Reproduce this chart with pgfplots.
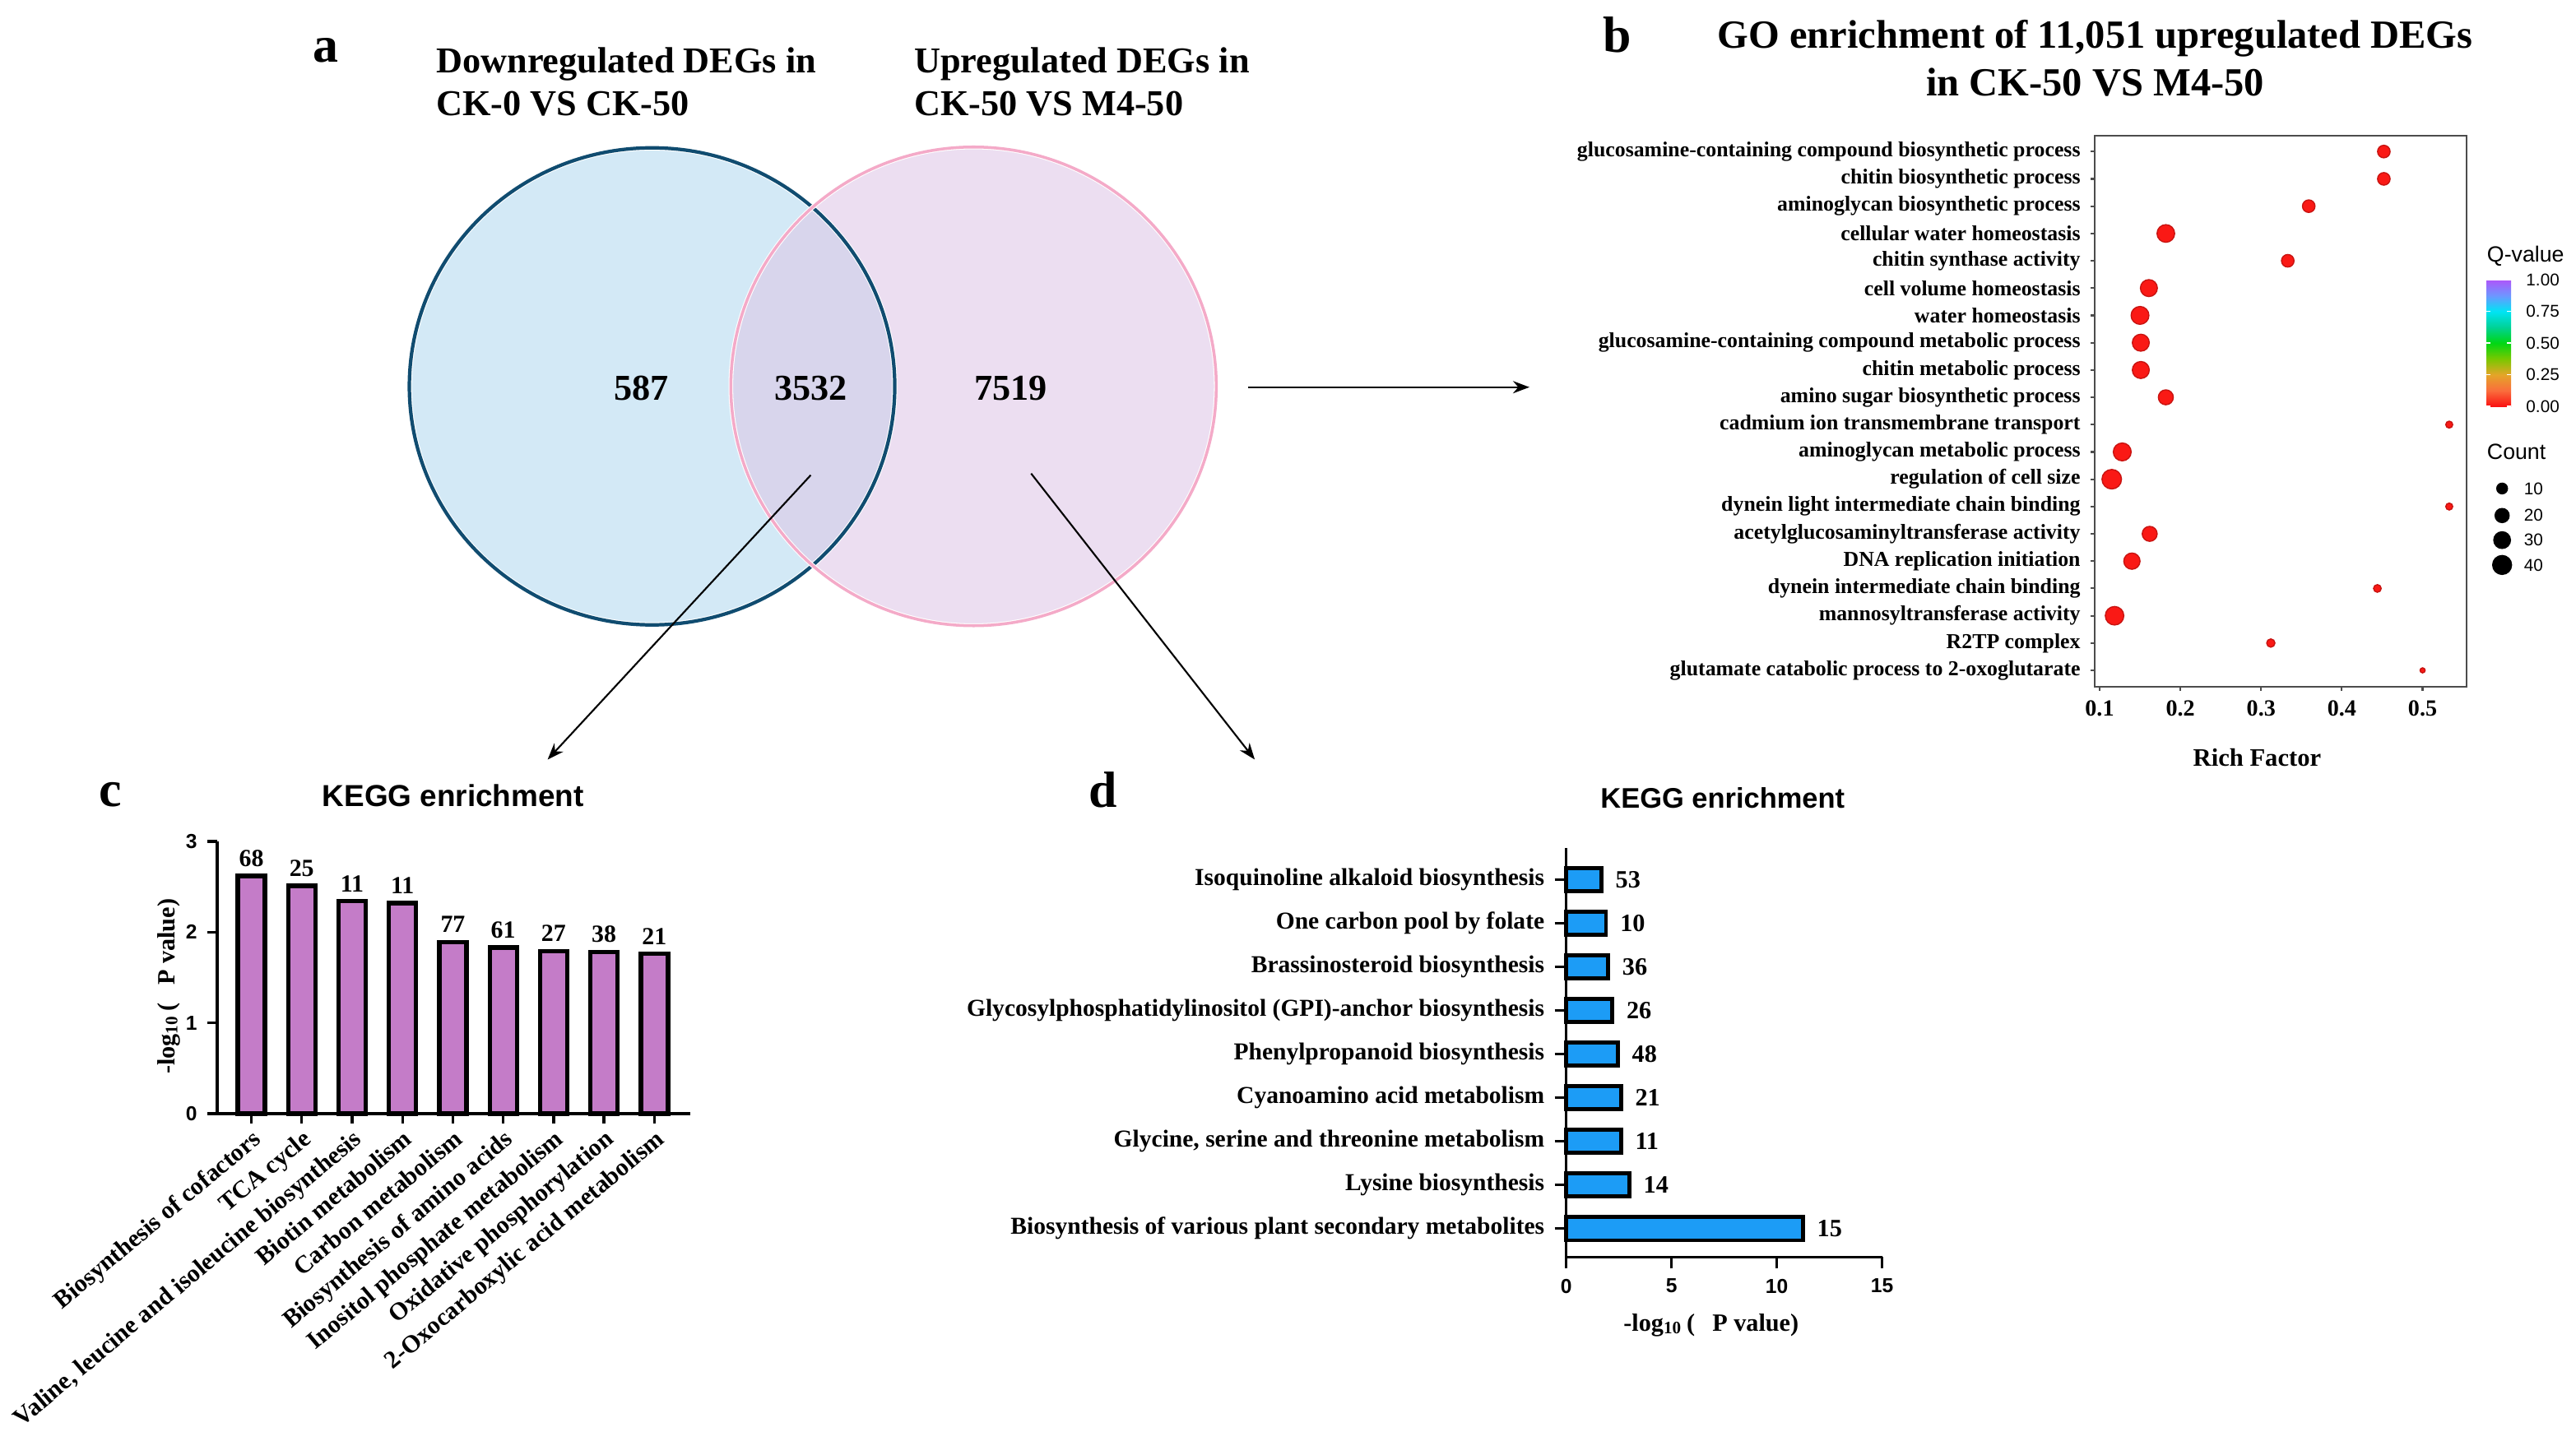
\documentclass[border=0pt]{standalone}
\usepackage{pgfplots}
\pgfplotsset{compat=1.18}
\usepackage{pgfplotstable}
\usepackage{fontspec}
\setmainfont{Liberation Serif}
\setsansfont{Liberation Sans}
\usetikzlibrary{arrows.meta,calc}
\pgfplotsset{/pgf/number format/assume math mode=true}

\definecolor{vblue}{RGB}{211,233,246}
\definecolor{vnavy}{RGB}{16,76,112}
\definecolor{vpink}{RGB}{236,222,241}
\definecolor{vpinkline}{RGB}{244,170,200}
\definecolor{vmix}{RGB}{216,213,236}
\definecolor{cbar}{RGB}{196,124,200}
\definecolor{dbar}{RGB}{28,156,246}

\pgfplotsset{colormap={qv}{rgb255(0cm)=(250,18,18) rgb255(1cm)=(250,110,60) rgb255(2cm)=(228,165,40)
  rgb255(3cm)=(120,200,0) rgb255(4cm)=(0,215,20) rgb255(5cm)=(0,210,150) rgb255(6cm)=(0,228,245)
  rgb255(7cm)=(110,150,255) rgb255(8cm)=(175,85,250)}}

% GO dot plot: rich factor, row (1 = bottom), gene count, marker radius (pt), q value
\pgfplotstableread{
x      row cnt ms    q
0.452  20  15  2.168 0.01
0.452  19  15  2.168 0.01
0.359  18  15  2.168 0.01
0.182  17  34  3.048 0.01
0.333  16  15  2.168 0.01
0.161  15  31  2.930 0.01
0.150  14  35  3.086 0.01
0.151  13  31  2.930 0.01
0.151  12  31  2.930 0.01
0.182  11  23  2.583 0.01
0.533  10  3   1.205 0.01
0.128  9   35  3.086 0.01
0.115  8   43  3.375 0.01
0.533  7   3   1.205 0.01
0.162  6   23  2.583 0.01
0.140  5   28  2.806 0.01
0.444  4   4   1.326 0.01
0.1185 3   38  3.198 0.01
0.312  2   5   1.432 0.01
0.500  1   1   0.876 0.01
}\godata

\pgfplotstableread{
x      row   cnt ms
0.5985 7.66  10  1.848
0.5985 6.67  20  2.437
0.5985 5.77  30  2.889
0.5985 4.86  40  3.270
}\golegend

% KEGG, shared DEGs
\pgfplotstableread{
x y    n
1 2.62 68
2 2.51 25
3 2.34 11
4 2.32 11
5 1.89 77
6 1.83 61
7 1.79 27
8 1.78 38
9 1.76 21
}\keggc

% KEGG, upregulated DEGs (row 1 = bottom)
\pgfplotstableread{
row v     n
1   11.24 15
2   3.00  14
3   2.60  11
4   2.60  21
5   2.45  48
6   2.19  26
7   1.99  36
8   1.89  10
9   1.67  53
}\keggd

\begin{document}
\begin{tikzpicture}
\useasboundingbox (0,0) rectangle (31.31cm,-17.51cm);

% ---------- a: Venn ----------
\begin{scope}[x=0.01cm,y=-0.01cm]
\fill[vblue] (793,470) ellipse [x radius=2.95cm, y radius=2.90cm];
\fill[vpink] (1184,470) ellipse [x radius=2.95cm, y radius=2.91cm];
\begin{scope}
\clip (793,470) ellipse [x radius=2.95cm, y radius=2.90cm];
\fill[vmix] (1184,470) ellipse [x radius=2.95cm, y radius=2.91cm];
\end{scope}
\draw[white, line width=1.8pt] (793,470) ellipse [x radius=2.95cm, y radius=2.90cm];
\draw[vnavy, line width=1.2pt] (793,470) ellipse [x radius=2.95cm, y radius=2.90cm];
\draw[white, line width=1.6pt] (1184,470) ellipse [x radius=2.95cm, y radius=2.91cm];
\draw[vpinkline, line width=1pt] (1184,470) ellipse [x radius=2.95cm, y radius=2.91cm];

\begin{scope}[font=\bfseries\fontsize{12.6}{14.8}\selectfont]
\node[anchor=west, align=left, inner sep=0pt] at (530,100) {Downregulated DEGs in\\CK-0 VS CK-50};
\node[anchor=west, align=left, inner sep=0pt] at (1111,100) {Upregulated DEGs in\\CK-50 VS M4-50};
\node at (780,472) {587};
\node at (986,472) {3532};
\node at (1229,472) {7519};
\end{scope}

\begin{scope}[font=\bfseries\fontsize{17.6}{20}\selectfont]
\node[anchor=base, inner sep=0pt] at (396,76) {a};
\node[anchor=base, inner sep=0pt] at (1967,64) {b};
\node[anchor=base, inner sep=0pt] at (134,981) {c};
\node[anchor=base, inner sep=0pt] at (1341,982) {d};
\end{scope}

\draw[line width=0.6pt, -{Stealth[length=0.2cm,width=0.15cm]}] (986,578) -- (666,924);
\draw[line width=0.6pt, -{Stealth[length=0.2cm,width=0.15cm]}] (1254,576) -- (1526,924);
\draw[line width=0.6pt, -{Stealth[length=0.2cm,width=0.15cm]}] (1518,471) -- (1860,471);

% titles and axis labels
\node[font=\bfseries\fontsize{13.8}{16.5}\selectfont, align=center] at (2548,71)
  {GO enrichment of 11,051 upregulated DEGs\\in CK-50 VS M4-50};
\node[font=\bfseries\fontsize{8.7}{10}\selectfont] at (2745,922) {Rich Factor};
\node[font=\sffamily\fontsize{7.6}{9}\selectfont, anchor=west, inner sep=0pt] at (3024,312) {Q-value};
\node[font=\sffamily\fontsize{7.6}{9}\selectfont, anchor=west, inner sep=0pt] at (3024,550) {Count};
\node[font=\sffamily\bfseries\fontsize{10.5}{12}\selectfont] at (551,968) {KEGG enrichment};
\node[font=\sffamily\bfseries\fontsize{9.8}{12}\selectfont] at (2095,971) {KEGG enrichment};
\node[font=\bfseries\fontsize{8.6}{10}\selectfont, rotate=90] at (205,1200)
  {-log\textsubscript{10}\,(\hspace{0.7em}P value)};
\node[font=\bfseries\fontsize{8.6}{10}\selectfont] at (2081,1612)
  {-log\textsubscript{10}\,(\hspace{0.7em}P value)};
\end{scope}

% ---------- b: GO dot plot ----------
\begin{axis}[
  at={(25.46cm,-8.346cm)}, anchor=south west,
  scale only axis, width=4.52cm, height=6.696cm,
  xmin=0.0939, xmax=0.5545, ymin=0.41, ymax=20.58,
  xtick={0.1,0.2,0.3,0.4,0.5},
  ytick={1,...,20},
  yticklabels={glutamate catabolic process to 2-oxoglutarate, R2TP complex,
    mannosyltransferase activity, dynein intermediate chain binding,
    DNA replication initiation, acetylglucosaminyltransferase activity,
    dynein light intermediate chain binding, regulation of cell size,
    aminoglycan metabolic process, cadmium ion transmembrane transport,
    amino sugar biosynthetic process, chitin metabolic process,
    glucosamine-containing compound metabolic process, water homeostasis,
    cell volume homeostasis, chitin synthase activity,
    cellular water homeostasis, aminoglycan biosynthetic process,
    chitin biosynthetic process, glucosamine-containing compound biosynthetic process},
  tick pos=left, tick align=outside, major tick length=0.05cm,
  axis line style={black!70, line width=0.6pt},
  tick style={black!70, line width=0.6pt},
  xticklabel style={font=\bfseries\fontsize{8}{9}\selectfont},
  yticklabel style={font=\bfseries\fontsize{7.35}{8}\selectfont},
  clip=false,
  colormap name=qv, point meta min=0, point meta max=1,
  colorbar,
  colorbar style={
    at={($(parent axis.north east)+(-0.06cm,-1.75cm)$)}, anchor=north west,
    width=0.3cm, height=1.54cm,
    ytick={0,0.25,0.5,0.75,1},
    yticklabels={0.00,0.25,0.50,0.75,1.00},
    yticklabel pos=right,
    yticklabel style={font=\sffamily\fontsize{5.9}{7}\selectfont, xshift=0.06cm},
    axis line style={draw=none},
    major tick style={white, line width=0.4pt},
    major tick length=0.05cm, tick align=inside,
  },
]
\addplot[scatter, only marks, mark=*, point meta=explicit,
  visualization depends on={\thisrow{ms} \as \gomsz},
  scatter/@pre marker code/.append style={/tikz/mark size=\gomsz}]
  table[x=x, y=row, meta=q] {\godata};
% size legend: dots, then their labels
\addplot[scatter, only marks, mark=*, point meta=explicit,
  scatter/use mapped color={draw=black, fill=black},
  visualization depends on={\thisrow{ms} \as \gomsz},
  scatter/@pre marker code/.append style={/tikz/mark size=\gomsz}]
  table[x=x, y=row, meta=cnt] {\golegend};
\addplot[draw=none, point meta=explicit,
  nodes near coords, nodes near coords align=horizontal,
  every node near coord/.append style={font=\sffamily\fontsize{5.9}{7}\selectfont,
    inner sep=0pt, xshift=0.26cm, black}]
  table[x=x, y=row, meta=cnt] {\golegend};
\end{axis}

% ---------- c: KEGG, shared ----------
\begin{axis}[
  at={(2.64cm,-13.54cm)}, anchor=south west,
  scale only axis, width=5.75cm, height=3.31cm,
  xmin=0.322, xmax=9.712, ymin=0, ymax=3,
  axis x line*=bottom, axis y line*=left,
  axis line style={-, line width=0.95pt},
  tick style={black, line width=0.95pt},
  tick align=outside, major tick length=0.12cm,
  ytick={0,1,2,3},
  xtick={1,...,9},
  xticklabels={Biosynthesis of cofactors, TCA cycle,
    {Valine, leucine and isoleucine biosynthesis}, Biotin metabolism,
    Carbon metabolism, Biosynthesis of amino acids, Inositol phosphate metabolism,
    Oxidative phosphorylation, 2-Oxocarboxylic acid metabolism},
  yticklabel style={font=\sffamily\bfseries\fontsize{7}{8}\selectfont},
  xticklabel style={font=\bfseries\fontsize{8.6}{10}\selectfont, rotate=40,
    anchor=north east, inner sep=1pt},
  clip=false,
]
\addplot[ybar, bar width=0.33cm, bar shift=0pt, fill=cbar, draw=black, line width=1.5pt,
  point meta=explicit, nodes near coords,
  every node near coord/.append style={font=\bfseries\fontsize{8.5}{10}\selectfont,
    inner sep=0pt, yshift=0.09cm}]
  table[x=x, y=y, meta=n] {\keggc};
\end{axis}

% ---------- d: KEGG, upregulated ----------
\begin{axis}[
  at={(19.036cm,-15.284cm)}, anchor=south west,
  scale only axis, width=3.84cm, height=4.97cm,
  xmin=0, xmax=15, ymin=0.343, ymax=9.717,
  axis x line*=bottom, axis y line*=left,
  axis line style={-, line width=0.95pt},
  tick style={black, line width=0.95pt},
  tick align=outside, major tick length=0.14cm,
  xtick={0,5,10,15},
  ytick={1,...,9},
  yticklabels={Biosynthesis of various plant secondary metabolites, Lysine biosynthesis,
    {Glycine, serine and threonine metabolism}, Cyanoamino acid metabolism,
    Phenylpropanoid biosynthesis, Glycosylphosphatidylinositol (GPI)-anchor biosynthesis,
    Brassinosteroid biosynthesis, One carbon pool by folate,
    Isoquinoline alkaloid biosynthesis},
  xticklabel style={font=\sffamily\bfseries\fontsize{7}{8}\selectfont},
  yticklabel style={font=\bfseries\fontsize{8.4}{10}\selectfont},
  clip=false,
]
\addplot[xbar, bar width=0.285cm, bar shift=0pt, fill=dbar, draw=black, line width=1.33pt,
  point meta=explicit, nodes near coords, nodes near coords align=horizontal,
  every node near coord/.append style={font=\bfseries\fontsize{8.6}{10}\selectfont,
    inner sep=0pt, xshift=0.15cm}]
  table[x=v, y=row, meta=n] {\keggd};
\end{axis}
\end{tikzpicture}
\end{document}
